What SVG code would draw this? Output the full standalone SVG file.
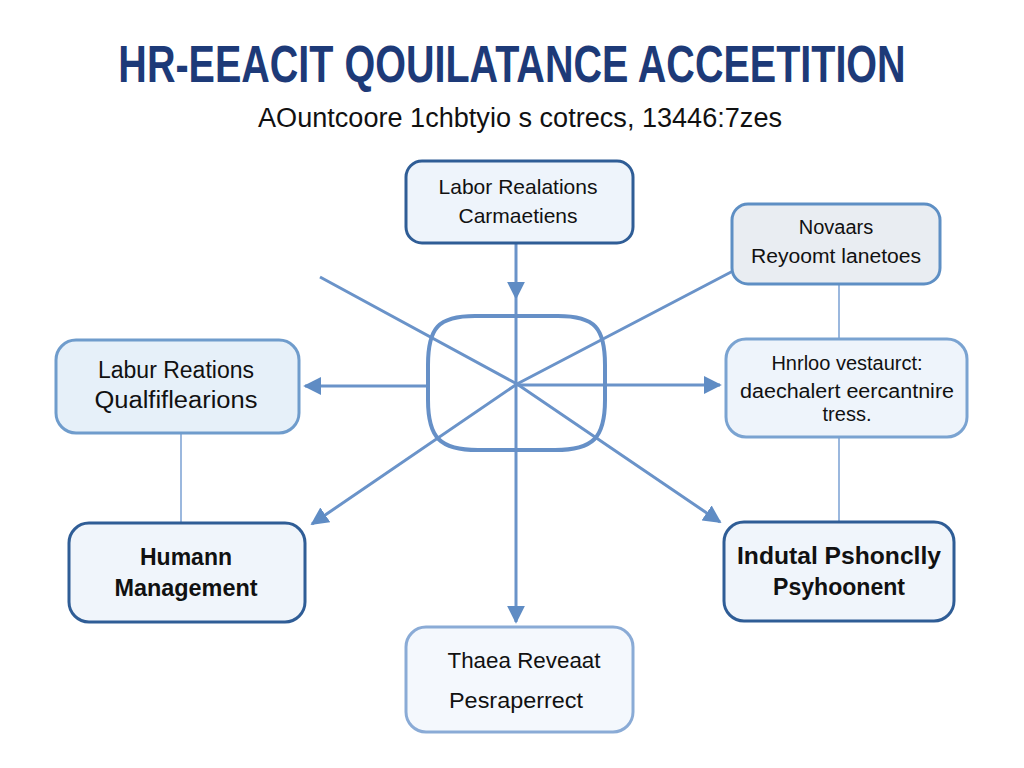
<svg xmlns="http://www.w3.org/2000/svg" width="1024" height="768" viewBox="0 0 1024 768">
<defs>
<marker id="ah" viewBox="0 0 10 10" refX="9" refY="5" markerWidth="6" markerHeight="6" orient="auto" markerUnits="strokeWidth">
<path d="M0,0 L10,5 L0,10 z" fill="#5f8cc4"/>
</marker>
<style>
.t{font-family:"Liberation Sans",Arial,sans-serif;fill:#111;text-anchor:middle}
.b{font-weight:bold}
.c{stroke:#6a93c9;stroke-width:3;fill:none}
.v{stroke:#9bb8de;stroke-width:2;fill:none}
</style>
</defs>
<rect width="1024" height="768" fill="#ffffff"/>
<text x="0" y="0" transform="translate(512,82) scale(0.775,1)" class="t b" font-size="51" style="fill:#1d3a78">HR-EEACIT QOUILATANCE ACCEETITION</text>
<text x="520" y="127" class="t" font-size="27" textLength="524" lengthAdjust="spacingAndGlyphs">AOuntcoore 1chbtyio s cotrecs, 13446:7zes</text>

<g id="connectors">
<line class="c" x1="516" y1="243" x2="516" y2="298" marker-end="url(#ah)"/>
<line class="c" x1="516" y1="298" x2="516" y2="622" marker-end="url(#ah)"/>
<polyline class="c" points="320,277 517,384 720,522" marker-end="url(#ah)"/>
<polyline class="c" points="733,271 517,384 312,524" marker-end="url(#ah)"/>
<line class="c" x1="427" y1="386" x2="305" y2="386" marker-end="url(#ah)"/>
<line class="c" x1="517" y1="385" x2="720" y2="385" marker-end="url(#ah)"/>
<line class="v" x1="181" y1="433" x2="181" y2="522"/>
<line class="v" x1="839" y1="284" x2="839" y2="338"/>
<line class="v" x1="839" y1="437" x2="839" y2="521"/>
</g>

<g id="hub">
<path d="M475,316 C438,316 428,328 428,365 L428,400 C428,438 440,450 478,450 L555,450 C593,450 605,438 605,400 L605,365 C605,328 595,316 558,316 Z" fill="none" stroke="#6690c7" stroke-width="4"/>
</g>

<g id="node-top">
<rect x="406" y="161" width="227" height="82" rx="16" fill="#eef4fb" stroke="#2f5d96" stroke-width="3"/>
<text x="518" y="194" class="t" font-size="21" textLength="159" lengthAdjust="spacingAndGlyphs">Labor Realations</text>
<text x="518" y="223" class="t" font-size="21">Carmaetiens</text>
</g>

<g id="node-topright">
<rect x="732" y="204" width="208" height="80" rx="16" fill="#e9edf2" stroke="#5e8fc4" stroke-width="3"/>
<text x="836" y="234" class="t" font-size="20">Novaars</text>
<text x="836" y="263" class="t" font-size="20" textLength="170" lengthAdjust="spacingAndGlyphs">Reyoomt lanetoes</text>
</g>

<g id="node-left">
<rect x="56" y="340" width="243" height="93" rx="20" fill="#e6f0f9" stroke="#6f9ccc" stroke-width="3"/>
<text x="176" y="378" class="t" font-size="23">Labur Reations</text>
<text x="176" y="408" class="t" font-size="23" textLength="163" lengthAdjust="spacingAndGlyphs">Qualfiflearions</text>
</g>

<g id="node-right">
<rect x="726" y="339" width="241" height="98" rx="20" fill="#eef4fb" stroke="#7aa3d1" stroke-width="3"/>
<text x="847" y="370" class="t" font-size="20">Hnrloo vestaurct:</text>
<text x="847" y="398" class="t" font-size="20" textLength="214" lengthAdjust="spacingAndGlyphs">daechalert eercantnire</text>
<text x="847" y="421" class="t" font-size="20">tress.</text>
</g>

<g id="node-humann">
<rect x="69" y="523" width="236" height="99" rx="20" fill="#f0f5fb" stroke="#2f5d96" stroke-width="3"/>
<text x="186" y="565" class="t b" font-size="23">Humann</text>
<text x="186" y="596" class="t b" font-size="23" textLength="143" lengthAdjust="spacingAndGlyphs">Management</text>
</g>

<g id="node-indutal">
<rect x="724" y="522" width="230" height="99" rx="20" fill="#f0f5fb" stroke="#2f5d96" stroke-width="3"/>
<text x="839" y="564" class="t b" font-size="23" textLength="204" lengthAdjust="spacingAndGlyphs">Indutal Pshonclly</text>
<text x="839" y="595" class="t b" font-size="23" textLength="132" lengthAdjust="spacingAndGlyphs">Psyhoonent</text>
</g>

<g id="node-bottom">
<rect x="406" y="627" width="227" height="105" rx="20" fill="#f4f8fd" stroke="#8aabd6" stroke-width="3"/>
<text x="524" y="668" class="t" font-size="22" textLength="153" lengthAdjust="spacingAndGlyphs">Thaea Reveaat</text>
<text x="516" y="708" class="t" font-size="22" textLength="134" lengthAdjust="spacingAndGlyphs">Pesraperrect</text>
</g>
</svg>
